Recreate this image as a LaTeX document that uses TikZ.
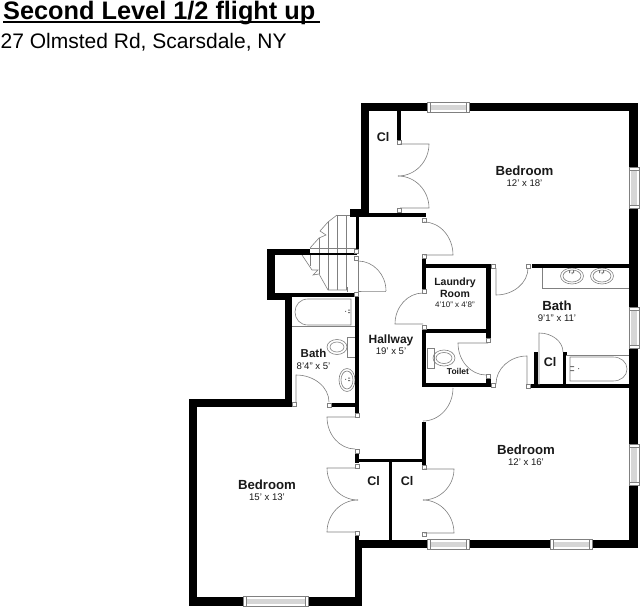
\documentclass[tikz,border=0pt]{standalone}
\usepackage{fontspec}
\setmainfont{Liberation Sans}
\usetikzlibrary{calc}
\newcommand{\wl}[4]{\fill[black] (#1,#2) rectangle (#3,#4);}
\newcommand{\pst}[2]{\draw[post] (#1-2,#2-2) rectangle (#1+2,#2+2);}
\newcommand{\dr}[4]{\draw[fix] #1 -- #2 .. controls ($#2!.55!#3$) and ($#4!.55!#3$) .. #4;}
\newcommand{\ar}[3]{\draw[fix] #1 .. controls ($#1!.55!#2$) and ($#3!.55!#2$) .. #3;}
\newcommand{\hwin}[4]{\fill[white] (#1,#2) rectangle (#3,#4);
  \fill[black!16] (#1+3,#2+2.2) rectangle (#3-3,#4-2.2);
  \draw[fix] (#1,#2) rectangle (#3,#4) (#1+3,#2) -- (#1+3,#4) (#3-3,#2) -- (#3-3,#4);}
\newcommand{\vwin}[4]{\fill[white] (#1,#2) rectangle (#3,#4);
  \fill[black!16] (#1+2.2,#2+3) rectangle (#3-2.2,#4-3);
  \draw[fix] (#1,#2) rectangle (#3,#4) (#1,#2+3) -- (#3,#2+3) (#1,#4-3) -- (#3,#4-3);}
\newcommand{\room}[5][13.2]{\node[rm] (#2) at (#3) {\fontsize{#1}{14}\selectfont\bfseries #4\\[-.6pt]\fontsize{9.6}{10}\selectfont #5};}
\newcommand{\faucet}[2]{\fill[black!55] (#1-1,#2-3.5) rectangle (#1+1,#2-2.5) (#1-1,#2-1) rectangle (#1+1,#2) (#1-4,#2-2.2) rectangle (#1-3,#2-1.2);}
\tikzset{
  fix/.style={draw=black!50,line width=.6pt},
  post/.style={draw=black!50,fill=white,line width=.5pt},
  rm/.style={align=center,inner sep=0pt,text=black!90},
  cl/.style={inner sep=0pt,font=\fontsize{12.5}{13}\selectfont\bfseries,text=black!90}
}
\begin{document}
\begin{tikzpicture}[x=1pt,y=-1pt]
\useasboundingbox (0,0) rectangle (640,607);
\fill[white] (0,0) rectangle (640,607);
% title
\node[anchor=base west,inner sep=0pt] (title) at (3,19.3) {\fontsize{25.3}{28}\selectfont\bfseries Second Level 1/2 flight up};
\fill[black] (3,21.5) rectangle (320,23.5);
\node[anchor=base west,inner sep=0pt] (addr) at (0.5,49) {\fontsize{21}{24}\selectfont 27 Olmsted Rd, Scarsdale, NY};
% left bath tub
\draw[fix] (292,326) -- (355,326);
\draw[fix] (351,299) -- (308,299) .. controls (300,299) and (295,305) .. (295,312) .. controls (295,319) and (300,325) .. (308,325) -- (351,325) -- cycle;
\faucet{349}{313}
% left bath toilet
\draw[fix,fill=white] (347,337) rectangle (355,357);
\draw[fix] (337,347) ellipse [x radius=10,y radius=7.5];
\draw[fix] (337,347) ellipse [x radius=7,y radius=5];
% left bath sink
\draw[fix] (347,380) ellipse [x radius=8,y radius=11.5];
\draw[fix] (347,380) ellipse [x radius=6,y radius=9];
\faucet{349}{381}
% vanity
\draw[fix] (542,268) -- (542,288) -- (629,288);
\foreach \sx in {572,602}{
  \draw[fix] (\sx,276) ellipse [x radius=11.5,y radius=8];
  \draw[fix] (\sx,276) ellipse [x radius=9,y radius=6];
  \fill[black!55] (\sx-3,270) rectangle (\sx-2,273) (\sx+1,270) rectangle (\sx+2,273) (\sx-.5,272) rectangle (\sx+.5,274);
}
% right tub
\draw[fix] (566,355) -- (629,355);
\draw[fix] (570,357) -- (613,357) .. controls (621,357) and (627,362) .. (627,369) .. controls (627,376) and (621,381) .. (613,381) -- (570,381) -- cycle;
\fill[black!55] (570,366) rectangle (574,367) (570,370) rectangle (574,371) (578,368) rectangle (579,369);
% toilet
\draw[fix] (427,348) rectangle (434,368);
\draw[fix] (444,358) ellipse [x radius=11,y radius=8];
\draw[fix] (444,358) ellipse [x radius=8,y radius=5.5];
% stairs
\draw[fix] (337,215) -- (356,215);
\draw[fix] (310,248) -- (356,248);
\foreach \sx in {337,346}{\draw[fix] (\sx,215) -- (\sx,254);}
\draw[fix] (328,222) -- (328,254);
\draw[fix] (319,238) -- (319,254);
\draw[fix] (337,215) -- (328,222) -- (320,231) -- (326,235) -- (319,238) -- (310,248);
\foreach \sx in {328,337,346}{\draw[fix] (\sx,254) -- (\sx,290);}
\draw[fix] (319,254) -- (319,274);
\draw[fix] (310,254) -- (310,266);
\draw[fix] (302,255) -- (312,270) -- (318,270) -- (313,275) -- (319,274) -- (328,290) -- (347,290);
\draw[fix] (347,287) -- (347,292);
% exterior walls
\wl{361}{103.5}{637.5}{111.5}
\wl{361}{103.5}{369}{214}
\wl{629}{103.5}{637.5}{548}
\wl{356}{540}{637.5}{548}
\wl{355}{540}{362}{606}
\wl{189}{399}{197}{606}
\wl{189}{399}{292}{407}
\wl{189}{597}{362}{606}
\wl{285}{295}{292}{407}
\wl{267}{249}{275}{300}
\wl{267}{249}{310}{255}
\wl{267}{293}{292}{300}
\wl{285}{293}{357}{297}
% interior walls
\wl{350}{209}{369}{214}
\wl{350}{213}{426}{217}
\wl{308}{252.5}{357}{254.8}
\wl{356}{214}{358.7}{250}
\wl{355}{295}{358.7}{413}
\wl{332}{403}{355}{407}
\wl{397}{111}{401}{140}
\wl{422}{258}{426}{290}
\wl{423}{264}{491}{268}
\wl{486}{264}{491}{338}
\wl{422}{329}{490}{333}
\wl{422}{329}{426}{387}
\wl{422}{383}{491}{387}
\wl{486}{377}{491}{384}
\wl{532}{264}{629}{268}
\wl{531}{384}{629}{388}
\wl{534}{352}{538}{386}
\wl{563}{352}{566}{386}
\wl{562.5}{352}{567}{355}
\wl{355}{453}{359}{463}
\wl{355}{459}{426}{462}
\wl{422}{422}{426}{465}
\wl{389}{460}{392}{545}
\wl{355}{536}{359}{548}
% windows
\hwin{427}{102.5}{469}{112}
\vwin{629}{167}{639}{208}
\vwin{629}{307}{639}{348}
\vwin{629}{444}{639}{485}
\hwin{427}{539.5}{469}{549}
\hwin{550}{539.5}{592}{549}
\hwin{243}{596.5}{308}{606.5}
% posts
\pst{399}{142}\pst{399}{210}
\pst{424}{220}\pst{424}{256}
\pst{356.5}{251}\pst{356.5}{258}\pst{356.5}{294}
\pst{424}{291}\pst{424}{327}
\pst{488}{340}\pst{488.5}{376}
\pst{493}{266}\pst{528}{266}
\pst{493}{385.5}\pst{528}{386}
\pst{294}{404}\pst{329.5}{405}
\pst{357}{415}\pst{357}{451}
\pst{357}{466}\pst{357}{533}
\pst{424}{467}\pst{424}{534}
% doors
\dr{(400,144)}{(429,144)}{(429,176)}{(398,176)}
\dr{(400,208)}{(429,208)}{(429,176)}{(398,176)}
\dr{(424,255)}{(453,255)}{(453,222)}{(424,222)}
\dr{(358,261)}{(358,291)}{(386,291)}{(386,291)}
\ar{(358,261)}{(386,261)}{(386,291)}
\dr{(423,324)}{(395,324)}{(395,293)}{(423,293)}
\dr{(488,343)}{(458,343)}{(458,375)}{(486,375)}
\dr{(496,268)}{(496,295)}{(528,295)}{(528,268)}
\dr{(527,385)}{(527,356)}{(496,356)}{(496,384)}
\dr{(539,385)}{(539,333)}{(563,333)}{(563,352)}
\dr{(296,402)}{(296,375)}{(329,375)}{(329,402)}
\dr{(355,417)}{(327,417)}{(327,449)}{(355,449)}
\ar{(453,388)}{(453,421)}{(423,421)}
\dr{(355,468)}{(327,468)}{(327,500)}{(358,500)}
\dr{(355,532)}{(327,532)}{(327,500)}{(358,500)}
\dr{(424,469)}{(454,469)}{(454,500)}{(423,500)}
\dr{(424,533)}{(454,533)}{(454,500)}{(423,500)}
% labels
\room{bedA}{524.5,176.5}{Bedroom}{12' x 18'}
\room{bedB}{526,455.5}{Bedroom}{12' x 16'}
\room{bedC}{267,490}{Bedroom}{15' x 13'}
\room[12]{hall}{391,344.5}{Hallway}{19' x 5'}
\room[11.5]{bathA}{313.5,359.5}{Bath}{8'4" x 5'}
\room{bathB}{557,311}{Bath}{9'1" x 11'}
\node[rm] (laundry) at (455,292.5) {\fontsize{10.5}{10.5}\selectfont\bfseries Laundry\\\fontsize{10.5}{10.5}\selectfont\bfseries Room\\[-1.5pt]\fontsize{8}{8}\selectfont 4'10" x 4'8"};
\node[rm,font=\fontsize{8.5}{9}\selectfont\bfseries] (toilet) at (458,371) {Toilet};
\node[cl] (cl1) at (383,137) {Cl};
\node[cl] (cl2) at (550,362) {Cl};
\node[cl] (cl3) at (373.5,481) {Cl};
\node[cl] (cl4) at (407,481) {Cl};
\end{tikzpicture}
\end{document}
